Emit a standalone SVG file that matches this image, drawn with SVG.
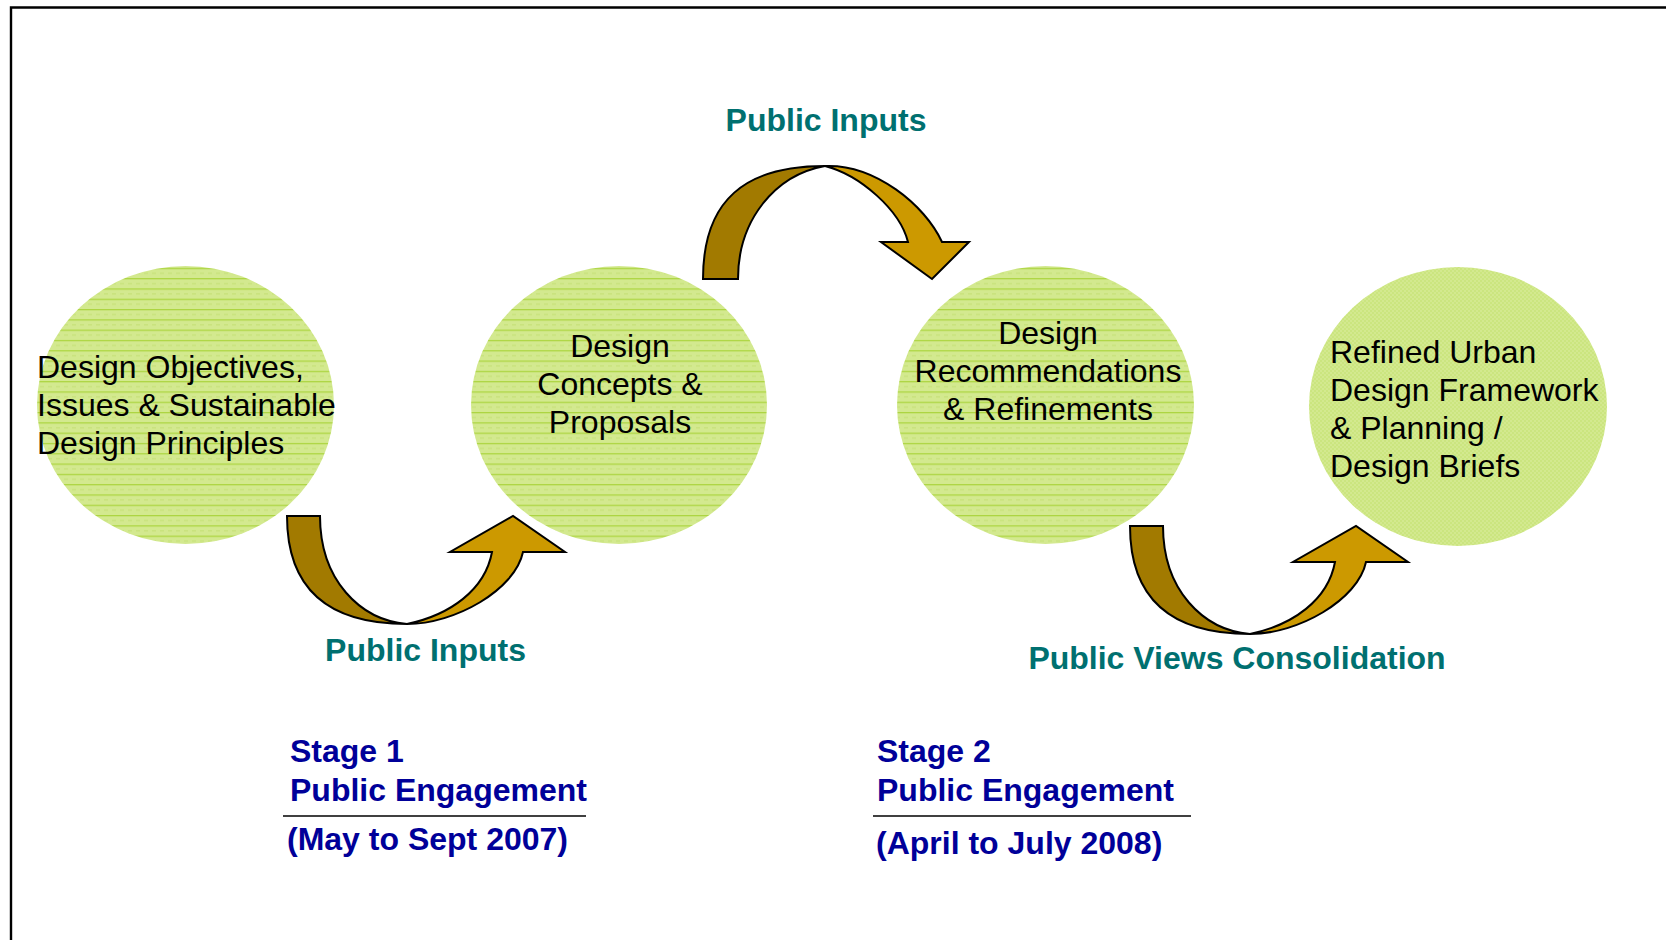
<svg xmlns="http://www.w3.org/2000/svg" width="1666" height="940" viewBox="0 0 1666 940">
<style>
.node-text{font-family:"Liberation Sans",Arial,sans-serif;font-size:32px;fill:#000}
.label{font-family:"Liberation Sans",Arial,sans-serif;font-size:32px;font-weight:bold;fill:#007070}
.stage{font-family:"Liberation Sans",Arial,sans-serif;font-size:32px;font-weight:bold;fill:#000099}
.dark{fill:#a27a00;stroke:#000;stroke-width:2;stroke-linejoin:miter}
.light{fill:#cc9900;stroke:#000;stroke-width:2;stroke-linejoin:miter}
.rule{stroke:#000;stroke-width:1.6}
</style>
<defs>
<pattern id="stripes" patternUnits="userSpaceOnUse" width="8" height="10.3">
<rect width="8" height="10.3" fill="#d3e98f"/>
<line x1="0" y1="0.6" x2="8" y2="0.6" stroke="#acd540" stroke-width="1.3"/>
<line x1="0" y1="5.5" x2="4" y2="5.5" stroke="#c4e075" stroke-width="1"/>
</pattern>
<pattern id="checks" patternUnits="userSpaceOnUse" width="4" height="4">
<rect width="4" height="4" fill="#d3e98f"/>
<rect width="2" height="2" fill="#cbe57f"/>
<rect x="2" y="2" width="2" height="2" fill="#cbe57f"/>
</pattern>
</defs>
<rect width="1666" height="940" fill="#fff"/>
<path d="M11,940 V7.5 H1666" fill="none" stroke="#000" stroke-width="2.4"/>

<g id="node-objectives">
<ellipse cx="185.5" cy="405" rx="148.5" ry="139" fill="url(#stripes)"/>
<text class="node-text" x="37" y="377.5">Design Objectives,</text>
<text class="node-text" x="37" y="416">Issues &amp; Sustainable</text>
<text class="node-text" x="37" y="454">Design Principles</text>
</g>

<g id="node-concepts">
<ellipse cx="619" cy="405" rx="148" ry="139" fill="url(#stripes)"/>
<text class="node-text" x="620" y="356.5" text-anchor="middle">Design</text>
<text class="node-text" x="620" y="394.5" text-anchor="middle">Concepts &amp;</text>
<text class="node-text" x="620" y="433" text-anchor="middle">Proposals</text>
</g>

<g id="node-recommendations">
<ellipse cx="1045.5" cy="405" rx="148.5" ry="139" fill="url(#stripes)"/>
<text class="node-text" x="1048" y="343.5" text-anchor="middle">Design</text>
<text class="node-text" x="1048" y="381.5" text-anchor="middle">Recommendations</text>
<text class="node-text" x="1048" y="419.5" text-anchor="middle">&amp; Refinements</text>
</g>

<g id="node-refined">
<ellipse cx="1458" cy="406.5" rx="149" ry="139.5" fill="url(#checks)"/>
<text class="node-text" x="1330" y="362.5">Refined Urban</text>
<text class="node-text" x="1330" y="400.5">Design Framework</text>
<text class="node-text" x="1330" y="439">&amp; Planning /</text>
<text class="node-text" x="1330" y="477">Design Briefs</text>
</g>

<g id="connectors">
<g id="arrow-1">
<path class="dark" d="M287,516 L320,516 C320,580 360,620 407,624 C330,624 287,590 287,516 Z"/>
<path class="light" d="M407,624 C455,624 515,590 523,552 L565,552 L513,516 L450,552 L492,552 C485,590 450,615 407,624 Z"/>
</g>
<g id="arrow-2">
<path class="dark" d="M703,279 L738,279 C738,220 775,175 825,166 C745,166 703,200 703,279 Z"/>
<path class="light" d="M825,166 C875,164 925,205 942,242 L969,242 L932,279 L881,242 L908,242 C900,210 860,175 825,166 Z"/>
</g>
<g id="arrow-3" transform="translate(843,10)">
<path class="dark" d="M287,516 L320,516 C320,580 360,620 407,624 C330,624 287,590 287,516 Z"/>
<path class="light" d="M407,624 C455,624 515,590 523,552 L565,552 L513,516 L450,552 L492,552 C485,590 450,615 407,624 Z"/>
</g>
</g>

<g id="label-top">
<text class="label" x="826" y="131" text-anchor="middle">Public Inputs</text>
</g>
<g id="label-bottom-left">
<text class="label" x="425.5" y="661" text-anchor="middle">Public Inputs</text>
</g>
<g id="label-bottom-right">
<text class="label" x="1237" y="669" text-anchor="middle">Public Views Consolidation</text>
</g>

<g id="stage-1">
<text class="stage" x="290" y="762">Stage 1</text>
<text class="stage" x="290" y="801">Public Engagement</text>
<line class="rule" x1="283" y1="816" x2="586" y2="816"/>
<text class="stage" x="287" y="850">(May to Sept 2007)</text>
</g>

<g id="stage-2">
<text class="stage" x="877" y="762">Stage 2</text>
<text class="stage" x="877" y="801">Public Engagement</text>
<line class="rule" x1="873" y1="816" x2="1191" y2="816"/>
<text class="stage" x="876" y="854">(April to July 2008)</text>
</g>
</svg>
